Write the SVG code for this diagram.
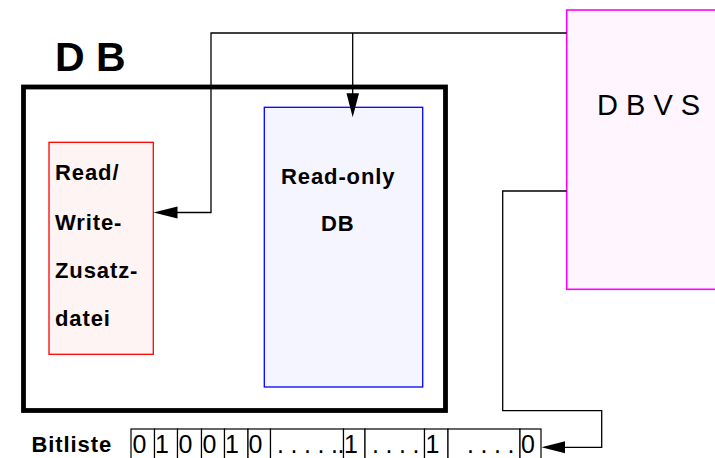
<svg xmlns="http://www.w3.org/2000/svg" width="715" height="458" viewBox="0 0 715 458">
<style>
.b{font-family:"Liberation Sans",Arial,sans-serif;font-weight:bold;font-size:22px;letter-spacing:0.9px;fill:#000}
.n{font-family:"Liberation Sans",Arial,sans-serif;font-size:25px;fill:#000}
.c{fill:none;stroke:#000;stroke-width:1.3}
.cell{fill:#fff;stroke:#000;stroke-width:1.2}
</style>
<rect width="715" height="458" fill="#fff"/>
<g id="db">
<rect x="23.5" y="87" width="422" height="323.5" fill="#fff" stroke="#000" stroke-width="4.8"/>
<text x="55" y="71" font-family="Liberation Sans,Arial,sans-serif" font-weight="bold" font-size="41" xml:space="preserve">D B</text>
</g>
<g id="rw">
<rect x="49" y="142.3" width="104.3" height="212" fill="#fff4f4" stroke="#ff0000" stroke-width="1.3"/>
<text class="b" x="55" y="179.5">Read/</text>
<text class="b" x="55" y="230">Write-</text>
<text class="b" x="55" y="278">Zusatz-</text>
<text class="b" x="55" y="326">datei</text>
</g>
<g id="ro">
<rect x="264.3" y="107.3" width="158.4" height="279.7" fill="#f5f5ff" stroke="#0000ff" stroke-width="1.3"/>
<text class="b" x="281" y="183.5">Read-only</text>
<text class="b" x="321" y="231">DB</text>
</g>
<g id="dbvs">
<rect x="566.7" y="10" width="160" height="279.3" fill="#fff5ff" stroke="#ff00ff" stroke-width="1.6"/>
<text x="597" y="115" font-family="Liberation Sans,Arial,sans-serif" font-size="29" xml:space="preserve">D B V S</text>
</g>
<g id="bitliste">
<text class="b" x="31.5" y="451.5">Bitliste</text>
<rect class="cell" x="131" y="429" width="23.5" height="35"/>
<rect class="cell" x="154.5" y="429" width="23" height="35"/>
<rect class="cell" x="177.5" y="429" width="24" height="35"/>
<rect class="cell" x="201.5" y="429" width="23" height="35"/>
<rect class="cell" x="224.5" y="429" width="23.5" height="35"/>
<rect class="cell" x="248" y="429" width="22.5" height="35"/>
<rect class="cell" x="270.5" y="429" width="73" height="35"/>
<rect class="cell" x="343.5" y="429" width="21.5" height="35"/>
<rect class="cell" x="365" y="429" width="59.5" height="35"/>
<rect class="cell" x="424.5" y="429" width="23.5" height="35"/>
<rect class="cell" x="448" y="429" width="72" height="35"/>
<rect class="cell" x="520" y="429" width="21" height="35"/>
<text class="n" x="132.5" y="453">0</text>
<text class="n" x="155" y="453">1</text>
<text class="n" x="178.5" y="453">0</text>
<text class="n" x="202.5" y="453">0</text>
<text class="n" x="225" y="453">1</text>
<text class="n" x="248.5" y="453">0</text>
<text class="n" x="277 290.5 304 317.5 331 337.5" y="453">......</text>
<text class="n" x="344" y="453">1</text>
<text class="n" x="372 385.5 399 412.5" y="453">....</text>
<text class="n" x="425.5" y="453">1</text>
<text class="n" x="467 480.5 494 507.5" y="453">....</text>
<text class="n" x="521" y="453">0</text>
</g>
<g id="connectors">
<polyline class="c" points="566.7,33 211,33 211,212.5 176,212.5"/>
<polygon points="153.5,212.5 177.5,206.5 177.5,218.5" fill="#000"/>
<line class="c" x1="352.7" y1="33" x2="352.7" y2="95"/>
<polygon points="352.7,117.3 346.5,93.3 359,93.3" fill="#000"/>
<polyline class="c" points="566.7,191 502.7,191 502.7,410.7 601.7,410.7 601.7,447.3 564,447.3"/>
<polygon points="541.5,447.3 565,441.3 565,453.3" fill="#000"/>
</g>
</svg>
